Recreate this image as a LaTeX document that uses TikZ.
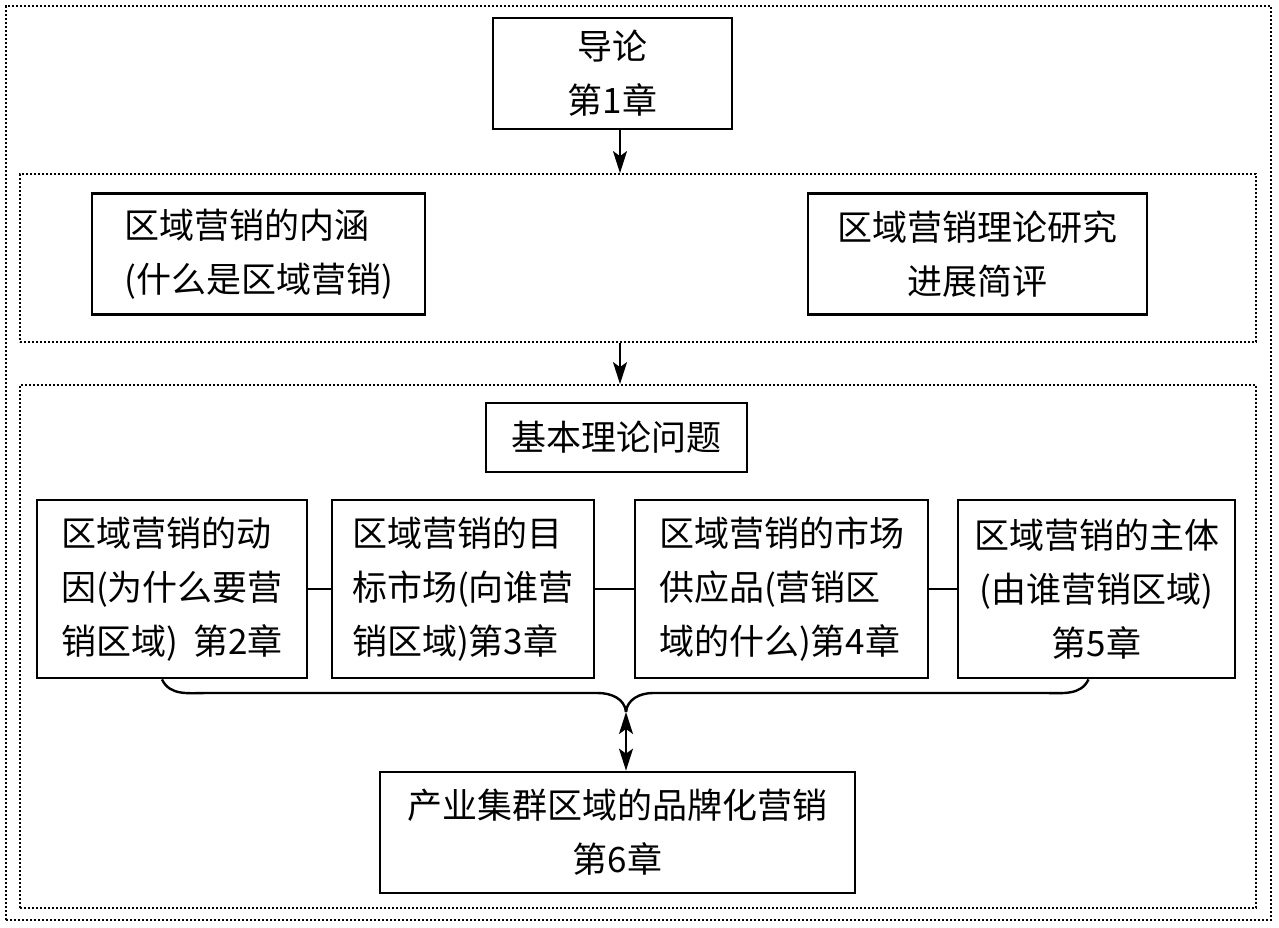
\documentclass[tikz,border=0pt]{standalone}
\usepackage{fontspec}
\setmainfont{Noto Sans CJK SC}
\usetikzlibrary{arrows.meta}

\begin{document}
\begin{tikzpicture}[x=0.5pt, y=-0.5pt,
    box/.style = {draw, line width=1.4pt, inner sep=0pt, font=\fontsize{17.5}{27}\selectfont},
    frame/.style = {draw, line width=0.9pt, dash pattern=on 0.9pt off 1.1pt, inner sep=0pt},
    arr/.style = {line width=1pt, -{Stealth[length=11pt, width=7pt, inset=2.5pt]}},
    dbl/.style = {line width=1pt, {Stealth[length=11pt, width=7pt, inset=2.5pt]}-{Stealth[length=11pt, width=7pt, inset=2.5pt]}},
    link/.style = {line width=1.2pt}]
  \useasboundingbox (0,0) rectangle (1279,927);

  \node[frame, minimum width=632.5pt, minimum height=457pt] at (638.5,463) (outer) {};
  \node[frame, minimum width=618pt, minimum height=84pt] at (638,258) (mid) {};
  \node[frame, minimum width=618pt, minimum height=261.5pt] at (638,646.5) (low) {};

  \node[box, align=center, minimum width=119.5pt, minimum height=55.5pt] at (612.5,73.5) (intro) {导论\\第1章};
  \node[box, align=left, minimum width=166.5pt, minimum height=60.5pt] at (258.5,254) (connot) {区域营销的内涵\\(什么是区域营销)};
  \node[box, align=center, minimum width=169.5pt, minimum height=60.5pt] at (977.5,254) (review) {区域营销理论研究\\进展简评};

  \node[box, align=center, minimum width=130.5pt, minimum height=34.5pt] at (616.5,437.5) (basic) {基本理论问题};
  \node[box, align=left, minimum width=135pt, minimum height=89pt] at (172,589) (motive) {区域营销的动\\因(为什么要营\\销区域)~~第2章};
  \node[box, align=left, minimum width=131pt, minimum height=89pt] at (463,589) (target) {区域营销的目\\标市场(向谁营\\销区域)第3章};
  \node[box, align=left, minimum width=146.5pt, minimum height=89pt] at (781.5,589) (offer) {区域营销的市场\\供应品(营销区\\域的什么)第4章};
  \node[box, align=center, minimum width=138.5pt, minimum height=89pt] at (1096.5,589) (subject) {区域营销的主体\\(由谁营销区域)\\第5章};
  \node[box, align=center, minimum width=237.5pt, minimum height=60.5pt] at (617.5,832.5) (cluster) {产业集群区域的品牌化营销\\第6章};

  \draw[arr] ([xshift=3.75pt]intro.south) -- ([xshift=3.75pt]intro.south |- mid.north);
  \draw[arr] ([xshift=3.75pt]intro.south |- mid.south) -- ([xshift=3.75pt]intro.south |- low.north);

  \draw[link] (motive) -- (target);
  \draw[link] (target) -- (offer);
  \draw[link] (offer) -- (subject);

  \coordinate (tip) at (626,712);
  \draw[link] ([xshift=-5pt]motive.south) to[out=-65, in=180] (207,693) -- (598,693) to[out=0, in=95] (tip);
  \draw[link] ([xshift=-4pt]subject.south) to[out=-115, in=0] (1045,693) -- (653,693) to[out=180, in=85] (tip);
  \draw[dbl] (tip) -- (tip |- cluster.north);
\end{tikzpicture}
\end{document}
